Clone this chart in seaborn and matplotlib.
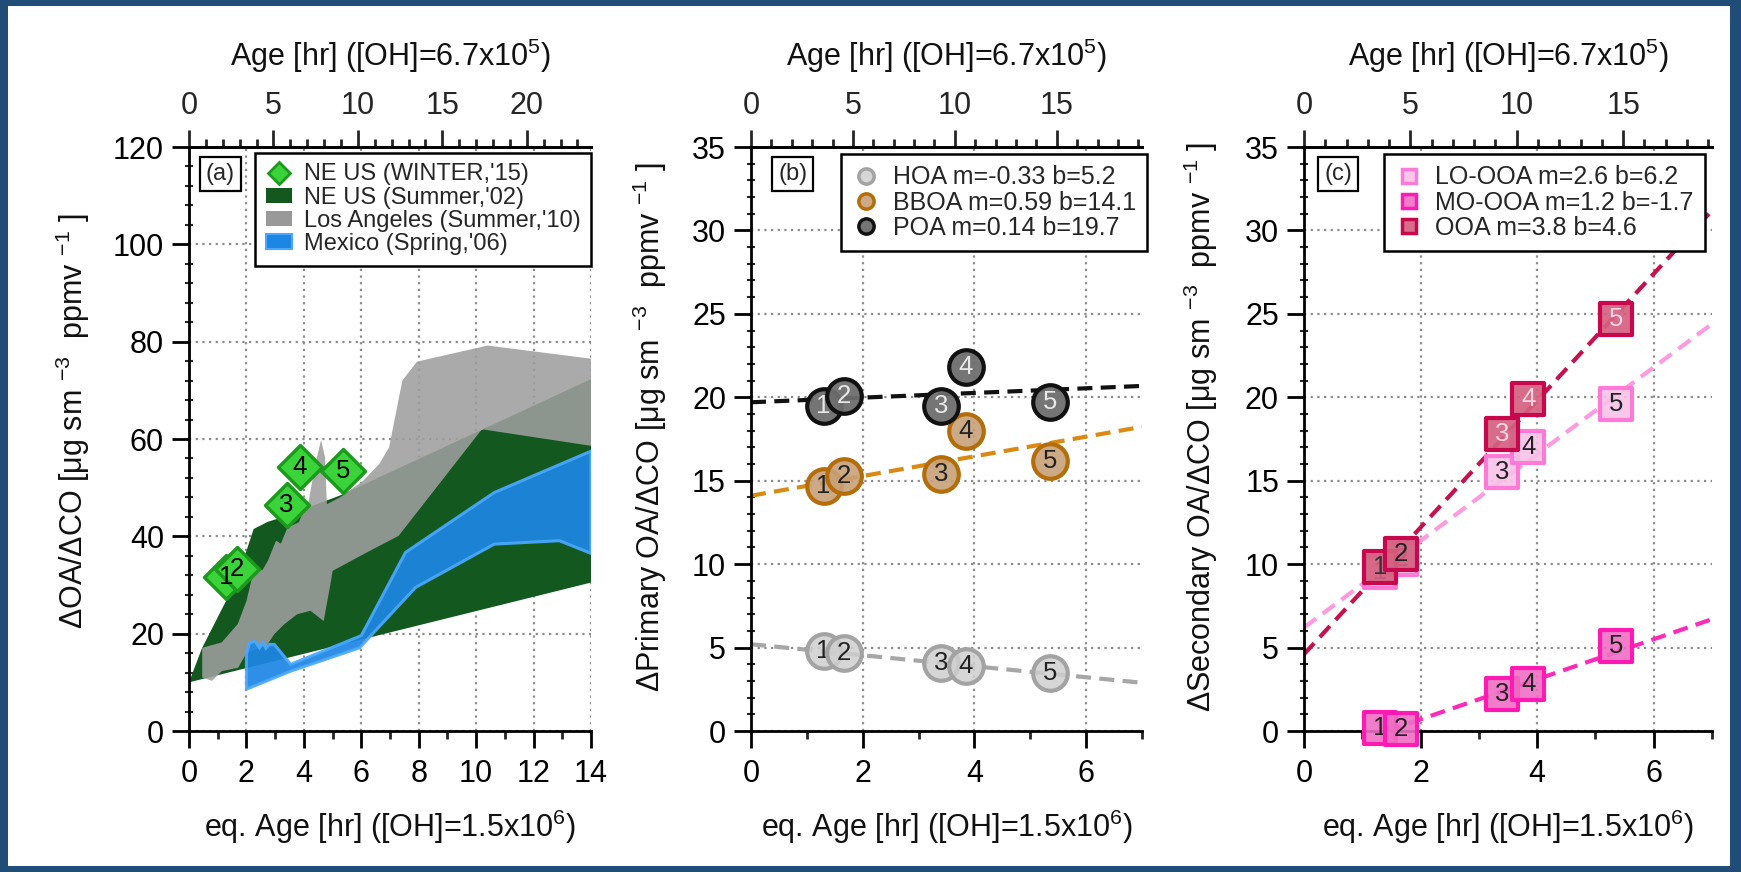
import numpy as np
import seaborn as sns
import matplotlib
matplotlib.use('Agg')
from matplotlib import pyplot as plt
from matplotlib import ticker
from matplotlib.patches import Patch, Rectangle
from matplotlib.lines import Line2D

# ---- data ----
nums = ['1', '2', '3', '4', '5']
eq_age = [1.3, 1.66, 3.4, 3.85, 5.35]          # eq. age of the 5 flights [hr]

# (a) NE US winter '15 (diamonds)
winter_y = [31.6, 33.3, 46.4, 54.2, 53.4]
# (a) NE US summer '02 band
neus_up_x = [0, 0.45, 1.4, 2.0, 2.25, 2.75, 3.3, 5.26, 14]
neus_up_y = [10, 17, 28, 37, 41.5, 43, 44, 48.4, 72.3]
neus_lo_x = [0, 14]
neus_lo_y = [10, 30.5]
# (a) Los Angeles summer '10 band
la_up_x = [0.46, 1.14, 1.7, 2.0, 2.17, 2.34, 2.55, 2.75, 3.03, 3.2, 3.43, 3.83, 3.94,
           4.17, 4.4, 4.6, 4.74, 4.8, 5.26, 6.06, 6.63, 6.97, 7.43, 7.94, 10.4, 14]
la_up_y = [17.1, 18.2, 22, 26.7, 30.9, 33.6, 33, 35, 39.1, 38.5, 41.8, 42.9, 44.6,
           47.3, 54.9, 59.8, 56.2, 46.6, 48, 51.4, 54.9, 58.3, 72, 75.9, 79.2, 76.5]
la_lo_x = [0.46, 0.8, 1.14, 1.71, 2.0, 2.7, 2.97, 3.31, 3.77, 4.23, 4.69, 4.95, 5.0,
           6.29, 7.3, 10.2, 14]
la_lo_y = [11, 10.3, 12.3, 13, 16, 17.5, 19.9, 21.9, 24, 24.7, 22.6, 31, 32.9,
           37, 40.1, 62, 58.6]
# (a) Mexico spring '06 band
mx_up_x = [2.0, 2.1, 2.29, 2.46, 2.57, 2.68, 2.8, 2.97, 3.54, 6.0, 7.54, 10.63, 14]
mx_up_y = [15.8, 18.0, 18.5, 17.1, 18.2, 17.0, 17.8, 17.8, 13.7, 19.6, 36.7, 49, 57.5]
mx_lo_x = [2.0, 3.54, 5.94, 7.89, 10.63, 12.9, 14]
mx_lo_y = [8.6, 12.3, 17.1, 29.5, 38.4, 39.1, 36.5]

# (b) primary OA
hoa_y = [4.8, 4.7, 4.1, 3.9, 3.5]
bboa_y = [14.7, 15.3, 15.4, 18.0, 16.2]
poa_y = [19.5, 20.1, 19.5, 21.8, 19.7]
prim_names = ['HOA', 'BBOA', 'POA']
prim_m = [-0.33, 0.59, 0.14]
prim_b = [5.2, 14.1, 19.7]

# (c) secondary OA
lo_y = [9.5, 10.3, 15.5, 17.0, 19.6]
mo_y = [0.2, 0.1, 2.2, 2.8, 5.1]
ooa_y = [9.8, 10.6, 17.8, 19.9, 24.7]
sec_names = ['LO-OOA', 'MO-OOA', 'OOA']
sec_m = [2.6, 1.2, 3.8]
sec_b = [6.2, -1.7, 4.6]

# ---- style ----
sns.set_theme(style='white')
plt.rcParams['font.family'] = ['Liberation Sans', 'DejaVu Sans']
plt.rcParams['mathtext.fontset'] = 'custom'
plt.rcParams['mathtext.rm'] = 'Liberation Sans'
plt.rcParams['mathtext.default'] = 'regular'

W, H = 1741.0, 872.0
fig = plt.figure(figsize=(W / 100, H / 100), dpi=100)
fig.patch.set_facecolor('#204d78')
fig.patches.append(Rectangle((8 / W, 6 / H), (1730 - 8) / W, (866 - 6) / H,
                             transform=fig.transFigure, facecolor='white',
                             edgecolor='none', zorder=-10))


def box(l, r, t=147, b=731):
    return [l / W, (H - b) / H, (r - l) / W, (b - t) / H]


top_lab = r'Age [hr] ([OH]=6.7x10$^{5}$)'
bot_lab = r'eq. Age [hr] ([OH]=1.5x10$^{6}$)'
unit = r' [μg sm $^{-3}$  ppmv $^{-1}$ ]'


def style(ax, xmax, ymax, ymaj, ymin, ratio, ylab, ylab_x, ylab_y):
    ax.set_xlim(0, xmax)
    ax.set_ylim(0, ymax)
    ax.set_facecolor('none')
    ax.spines['right'].set_visible(False)
    for s in ['top', 'bottom']:
        ax.spines[s].set_linewidth(2)
        ax.spines[s].set_color('black')
    ax.spines['left'].set_linestyle((0, (1, 1)))
    ax.spines['left'].set_linewidth(2)
    ax.spines['left'].set_color('black')
    ax.xaxis.set_major_locator(ticker.MultipleLocator(2))
    ax.xaxis.set_minor_locator(ticker.MultipleLocator(1))
    ax.yaxis.set_major_locator(ticker.MultipleLocator(ymaj))
    ax.yaxis.set_minor_locator(ticker.MultipleLocator(ymin))
    ax.tick_params(axis='x', which='major', bottom=True, top=False, direction='out',
                   length=12, width=2, labelsize=22, pad=8, colors='black')
    ax.tick_params(axis='x', which='minor', bottom=True, top=False, direction='out',
                   length=6, width=2)
    ax.tick_params(axis='y', which='major', left=True, direction='out',
                   length=12, width=2, labelsize=22, pad=6, colors='black')
    ax.tick_params(axis='y', which='minor', left=True, direction='inout',
                   length=6, width=1.5)
    ax.grid(True, which='major', color='#8c8c8c', linestyle=(0, (1, 2)), linewidth=1.6)
    ax.set_axisbelow(True)
    ax.set_xlabel(bot_lab, fontsize=22, color='#111111')
    ax.xaxis.set_label_coords(0.5, -0.132)
    ax.set_ylabel(ylab, fontsize=22, color='#111111')
    ax.yaxis.set_label_coords(ylab_x, ylab_y)
    sec = ax.secondary_xaxis('top', functions=(lambda v: v * ratio, lambda v: v / ratio))
    sec.xaxis.set_major_locator(ticker.MultipleLocator(5))
    sec.xaxis.set_minor_locator(ticker.MultipleLocator(1))
    sec.spines['top'].set_linewidth(2)
    sec.tick_params(axis='x', which='major', direction='out', length=12, width=2,
                    labelsize=22, pad=7)
    sec.tick_params(axis='x', which='minor', direction='out', length=6, width=2)
    sec.set_xlabel(top_lab, fontsize=22, color='#111111')
    sec.xaxis.set_label_coords(0.5, 1.138, transform=ax.transAxes)
    return sec


def panel_tag(ax, tag, x):
    ax.text(x, 0.972, tag, transform=ax.transAxes, fontsize=17, ha='left', va='top',
            zorder=40, bbox=dict(boxstyle='square,pad=0.25', facecolor='white',
                                 edgecolor='black', linewidth=1.6))


def numbered(ax, xs, ys, marker, s, face, edge, lw, txtcols, z0, ztxt=None):
    for i, (x, y) in enumerate(zip(xs, ys)):
        sns.scatterplot(x=[x], y=[y], ax=ax, marker=marker, s=s, color=face,
                        edgecolor=edge, linewidth=lw, zorder=z0 + 2 * i, clip_on=False,
                        legend=False)
        ax.text(x, y, nums[i], ha='center', va='center', fontsize=18.5,
                color=txtcols[i], zorder=(ztxt if ztxt else z0 + 2 * i + 1))


def leg_kw(fs):
    return dict(frameon=True, fancybox=False, framealpha=1, edgecolor='black',
                fontsize=fs, borderpad=0.45, labelspacing=0.05, handletextpad=0.5,
                handlelength=1.1, handleheight=0.6, borderaxespad=0)


# ---- (a) ----
ax = fig.add_axes(box(189, 591))
style(ax, 14, 120, 20, 4, 1.70, 'ΔOA/ΔCO' + unit, -0.241, 0.53)
green_dark = '#13591f'
ax.fill(np.r_[neus_up_x, neus_lo_x[::-1]], np.r_[neus_up_y, neus_lo_y[::-1]],
        color=green_dark, lw=0, zorder=2)
ax.fill(np.r_[la_up_x, la_lo_x[::-1]], np.r_[la_up_y, la_lo_y[::-1]],
        color='#9e9e9e', alpha=0.88, lw=0, zorder=3)
ax.fill(np.r_[mx_up_x, mx_lo_x[::-1]], np.r_[mx_up_y, mx_lo_y[::-1]],
        facecolor='#1d86e4', alpha=0.92, edgecolor='#4aa9ff', lw=2.2, zorder=4)
numbered(ax, eq_age, winter_y, 'D', 500, '#3ad43a', '#1d9a1d', 2.5, ['black'] * 5, 10, 30)
panel_tag(ax, '(a)', 0.042)
h_a = [Line2D([], [], marker='D', ls='none', ms=11.5, mfc='#3ad43a', mec='#1d9a1d', mew=2),
       Patch(facecolor=green_dark, edgecolor='none'),
       Patch(facecolor='#999999', edgecolor='none'),
       Patch(facecolor='#1d86e4', edgecolor='#4aa9ff', lw=1.5)]
ax.legend(h_a, ["NE US (WINTER,'15)", "NE US (Summer,'02)", "Los Angeles (Summer,'10)",
                "Mexico (Spring,'06)"], loc='upper right', bbox_to_anchor=(1.0, 0.99),
          **leg_kw(17)).get_frame().set_linewidth(1.8)

# ---- (b) ----
ax = fig.add_axes(box(751, 1142))
style(ax, 7, 35, 5, 1, 2.74, 'ΔPrimary OA/ΔCO' + unit, -0.21, 0.52)
prim_y = [hoa_y, bboa_y, poa_y]
p_face = [(0.81, 0.81, 0.81, 0.85), (0.78, 0.63, 0.47, 0.9), (0.43, 0.43, 0.43, 0.95)]
p_edge = ['#a3a3a3', '#b56d0a', '#111111']
p_line = ['#a6a6a6', '#d98a12', '#111111']
p_txt = [['#222222'] * 5, ['#222222'] * 5, ['#e8e8e8'] * 5]
for k in range(3):
    ax.axline((0, prim_b[k]), slope=prim_m[k], color=p_line[k], lw=3, ls=(0, (3.6, 2.0)),
              zorder=2)
    numbered(ax, eq_age, prim_y[k], 'o', 620, p_face[k], p_edge[k], 3, p_txt[k], 10 + 12 * k)
panel_tag(ax, '(b)', 0.07)
h_b = [Line2D([], [], marker='o', ls='none', ms=11, mfc=p_face[k], mec=p_edge[k], mew=2.5)
       for k in range(3)]
lab_b = ['%s m=%s b=%s' % (prim_names[k], prim_m[k], prim_b[k]) for k in range(3)]
ax.legend(h_b, lab_b, loc='upper right', bbox_to_anchor=(1.013, 0.988),
          **leg_kw(18)).get_frame().set_linewidth(1.8)

# ---- (c) ----
ax = fig.add_axes(box(1304, 1712))
style(ax, 7, 35, 5, 1, 2.74, 'ΔSecondary OA/ΔCO' + unit, -0.205, 0.52)
sec_y = [lo_y, mo_y, ooa_y]
c_face = [(0.97, 0.76, 0.91, 0.9), (0.94, 0.43, 0.77, 0.9), (0.83, 0.38, 0.50, 0.92)]
c_edge = ['#ff7ad6', '#ff1ab4', '#c8084c']
c_line = ['#ff9ae0', '#ff2ab8', '#c8104c']
c_txt = [['#222222'] * 5, ['#222222'] * 5,
         ['#333333', '#222222', '#f4d6e2', '#f4d6e2', '#f4d6e2']]
for k in range(3):
    ax.axline((0, sec_b[k]), slope=sec_m[k], color=c_line[k], lw=3, ls=(0, (3.6, 2.0)),
              zorder=2)
    numbered(ax, eq_age, sec_y[k], 's', 540, c_face[k], c_edge[k], 3, c_txt[k], 10 + 12 * k)
panel_tag(ax, '(c)', 0.05)
h_c = [Line2D([], [], marker='s', ls='none', ms=10.5, mfc=c_face[k], mec=c_edge[k], mew=2.5)
       for k in range(3)]
lab_c = ['%s m=%s b=%s' % (sec_names[k], sec_m[k], sec_b[k]) for k in range(3)]
ax.legend(h_c, lab_c, loc='upper right', bbox_to_anchor=(0.983, 0.988),
          **leg_kw(18)).get_frame().set_linewidth(1.8)

fig.savefig('out.png', dpi=100, facecolor=fig.get_facecolor())
